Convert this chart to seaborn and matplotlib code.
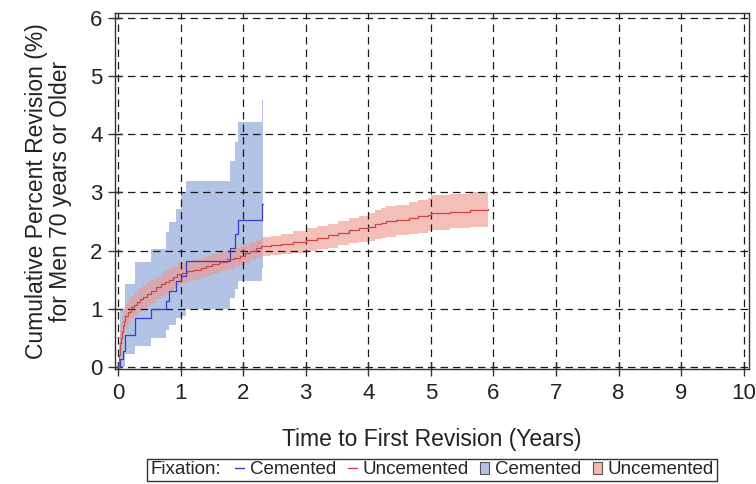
import matplotlib
matplotlib.use("Agg")
import matplotlib.pyplot as plt
import seaborn as sns
import pandas as pd
from matplotlib.lines import Line2D
from matplotlib.patches import Patch
from matplotlib.offsetbox import HPacker

# ---- data ----
cem_time = [0, 0.04, 0.08, 0.12, 0.27, 0.52, 0.76, 0.81, 0.93, 1.00, 1.09, 1.79, 1.87, 1.92, 2.30, 2.31]
cem_est = [0, 0.14, 0.27, 0.55, 0.84, 0.99, 1.13, 1.30, 1.47, 1.57, 1.82, 2.04, 2.28, 2.52, 2.80, 2.80]
cem_low = [0, 0, 0, 0.21, 0.36, 0.50, 0.63, 0.72, 0.84, 0.88, 1.00, 1.19, 1.33, 1.48, 1.70, 1.70]
cem_up = [0, 1.00, 1.00, 1.42, 1.80, 2.03, 2.32, 2.49, 2.72, 3.00, 3.20, 3.55, 3.87, 4.21, 4.59, 4.59]

unc_time = [0, 0.01, 0.02, 0.03, 0.04, 0.05, 0.065, 0.08, 0.10, 0.12, 0.16, 0.20, 0.25, 0.30,
            0.35, 0.40, 0.46, 0.52, 0.60, 0.68, 0.75, 0.81, 0.88, 0.95, 1.02, 1.10, 1.20,
            1.32, 1.41, 1.50, 1.62, 1.75, 1.85, 1.95, 2.03, 2.11, 2.20, 2.28, 2.45, 2.60,
            2.80, 3.00, 3.18, 3.35, 3.52, 3.70, 3.85, 4.00, 4.10, 4.20, 4.29, 4.45, 4.65,
            4.80, 4.95, 5.00, 5.30, 5.62, 5.91]
unc_est = [0, 0.10, 0.20, 0.30, 0.40, 0.50, 0.60, 0.70, 0.79, 0.87, 0.95, 1.02, 1.07, 1.12,
           1.16, 1.20, 1.25, 1.30, 1.37, 1.42, 1.46, 1.50, 1.55, 1.59, 1.62, 1.65, 1.67,
           1.70, 1.73, 1.77, 1.81, 1.85, 1.88, 1.91, 1.95, 2.00, 2.04, 2.08, 2.10, 2.12,
           2.15, 2.19, 2.22, 2.26, 2.31, 2.36, 2.38, 2.40, 2.45, 2.48, 2.51, 2.53, 2.56,
           2.59, 2.62, 2.65, 2.67, 2.70, 2.71]
unc_low = [0, 0.00, 0.05, 0.12, 0.21, 0.30, 0.39, 0.48, 0.57, 0.65, 0.74, 0.82, 0.87, 0.92,
           0.96, 1.00, 1.05, 1.10, 1.17, 1.22, 1.26, 1.30, 1.35, 1.40, 1.44, 1.47, 1.50,
           1.53, 1.56, 1.60, 1.65, 1.69, 1.72, 1.75, 1.79, 1.83, 1.87, 1.90, 1.92, 1.94,
           1.96, 1.99, 2.02, 2.05, 2.09, 2.13, 2.15, 2.17, 2.20, 2.22, 2.24, 2.26, 2.28,
           2.31, 2.33, 2.36, 2.38, 2.40, 2.42]
unc_up = [0, 0.30, 0.42, 0.55, 0.65, 0.75, 0.85, 0.95, 1.03, 1.10, 1.16, 1.22, 1.27, 1.32,
          1.36, 1.40, 1.45, 1.50, 1.55, 1.62, 1.66, 1.70, 1.74, 1.78, 1.80, 1.82, 1.85,
          1.88, 1.91, 1.94, 1.97, 2.01, 2.04, 2.07, 2.11, 2.15, 2.19, 2.23, 2.25, 2.28,
          2.33, 2.38, 2.42, 2.46, 2.51, 2.56, 2.60, 2.64, 2.70, 2.73, 2.76, 2.79, 2.83,
          2.87, 2.91, 2.95, 2.98, 3.00, 3.03]

groups = ["Cemented", "Uncemented"]
x_ticks = list(range(0, 11))
y_ticks = list(range(0, 7))

line_colors = {"Cemented": "#3b3bc6", "Uncemented": "#c84848"}
band_colors = {"Cemented": "#b3c3e5", "Uncemented": "#ee968f"}

# ---- figure ----
sns.set_theme(style="white")
plt.rcParams["font.family"] = ["Liberation Sans", "DejaVu Sans"]

fig = plt.figure(figsize=(7.56, 4.84), dpi=100)
ax = fig.add_axes([0.1521, 0.237, 0.8390, 0.7355])

ax.fill_between(cem_time, cem_low, cem_up, step="post", color=band_colors["Cemented"],
                linewidth=0, zorder=0.2)
ax.fill_between(unc_time, unc_low, unc_up, step="post", color=band_colors["Uncemented"],
                alpha=0.62, linewidth=0, zorder=0.3)

df = pd.concat([
    pd.DataFrame({"time": cem_time, "est": cem_est, "group": "Cemented"}),
    pd.DataFrame({"time": unc_time, "est": unc_est, "group": "Uncemented"}),
], ignore_index=True)

sns.lineplot(data=df, x="time", y="est", hue="group", hue_order=groups,
             palette=line_colors, estimator=None, sort=False, drawstyle="steps-post",
             linewidth=0.9, legend=False, ax=ax, zorder=2)

ax.set_xlim(-0.048, 10.09)
ax.set_ylim(-0.045, 6.086)
ax.set_xticks(x_ticks)
ax.set_yticks(y_ticks)
ax.set_axisbelow(True)
ax.grid(True, color="#1a1a1a", linestyle=(0, (6, 4)), linewidth=0.9)

for s in ax.spines.values():
    s.set_color("#333333")
    s.set_linewidth(1.0)

ax.tick_params(axis="x", which="major", direction="inout", length=10, width=1.0,
               color="#333333", labelsize=16, labelcolor="#222222", pad=5, bottom=True)
ax.tick_params(axis="y", which="major", direction="inout", length=10, width=1.0,
               color="#333333", labelsize=16, labelcolor="#222222", pad=4, left=True)

ax.set_xlabel("Time to First Revision (Years)", fontsize=16.5, color="#222222", labelpad=17)
ax.set_ylabel("Cumulative Percent Revision (%)\nfor Men 70 years or Older", fontsize=16.5,
              color="#222222", labelpad=13, linespacing=1.05)

handles = [
    Line2D([], [], color=line_colors["Cemented"], linewidth=1.0),
    Line2D([], [], color=line_colors["Uncemented"], linewidth=1.0),
    Patch(facecolor=band_colors["Cemented"], edgecolor="#555555", linewidth=0.8),
    Patch(facecolor="#f2b8b2", edgecolor="#555555", linewidth=0.8),
]
labels = groups + groups

leg = fig.legend(handles, labels, loc="center", bbox_to_anchor=(0.5714, 0.029), ncol=4,
                 frameon=True, fancybox=False, edgecolor="#333333", framealpha=1,
                 fontsize=13.5, handlelength=0.5, handleheight=0.6, handletextpad=0.3,
                 columnspacing=0.6, borderpad=0.15, title="Fixation:", title_fontsize=13.5)
leg.get_frame().set_linewidth(1.0)
fs = leg._fontsize
leg._legend_box = HPacker(pad=leg.borderpad * fs, sep=0.75 * fs, align="center",
                          children=[leg._legend_title_box, leg._legend_handle_box])
leg._legend_box.set_figure(fig)
leg._legend_box.set_offset(leg._findoffset)

fig.savefig("out.png", dpi=100)
